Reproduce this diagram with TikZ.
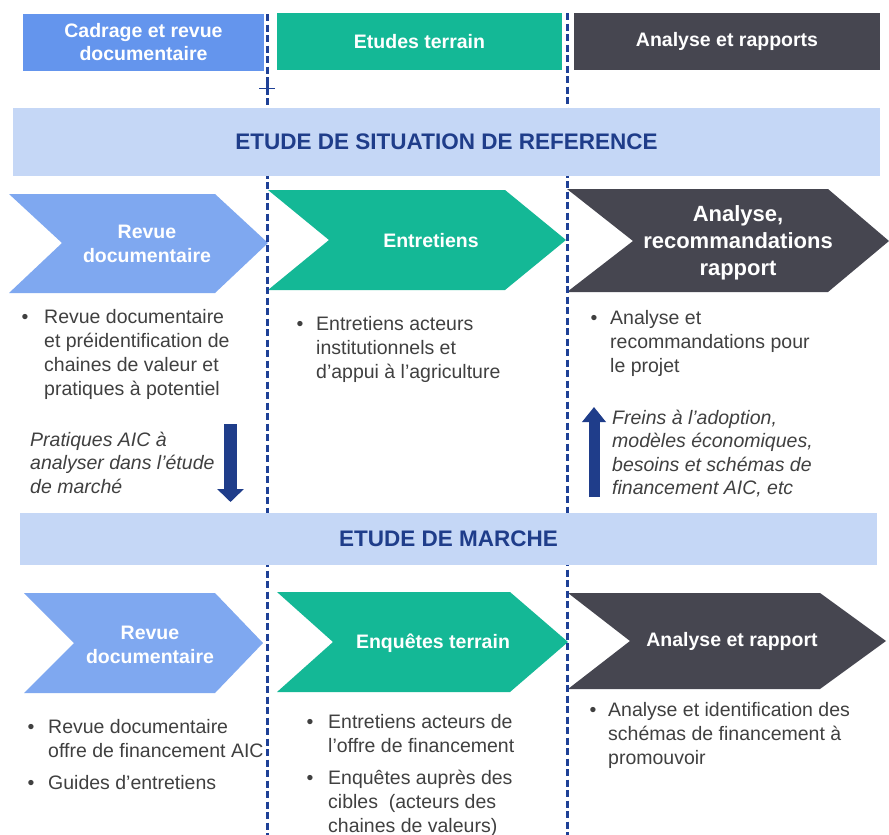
\documentclass[tikz,border=0pt]{standalone}
\usepackage{fontspec}
\setmainfont{Liberation Sans}
\usetikzlibrary{arrows.meta}
\definecolor{hblue}{RGB}{100,149,237}
\definecolor{cblue}{RGB}{127,168,240}
\definecolor{tgreen}{RGB}{20,184,150}
\definecolor{dgray}{RGB}{70,70,80}
\definecolor{bandc}{RGB}{197,215,246}
\definecolor{navy}{RGB}{31,61,138}
\definecolor{dashc}{RGB}{30,64,150}
\definecolor{txt}{RGB}{64,64,64}
\newcommand\mlines[1]{\begin{tabular}[t]{@{}l@{}}#1\end{tabular}}
\begin{document}
\begin{tikzpicture}[x=1pt,y=-1pt,
 hdr/.style={inner sep=0, text=white, font=\bfseries\fontsize{19.5}{23}\selectfont, align=center},
 ctext/.style={text=white, font=\bfseries\fontsize{19.5}{24}\selectfont, align=center, inner sep=0},
 bandbox/.style={fill=bandc, inner sep=0, text=navy, font=\bfseries\fontsize{22.5}{27}\selectfont},
 body/.style={anchor=base west, inner sep=0, text=txt, font=\fontsize{19.5}{24}\selectfont},
 ital/.style={anchor=base west, inner sep=0, text=txt, font=\itshape\fontsize{19.5}{23.5}\selectfont},
 bul/.style={anchor=base, inner sep=0, text=txt, font=\fontsize{19.5}{24}\selectfont},
 divider/.style={dashc, line width=2.8pt, dash pattern=on 7pt off 3.5pt},
 bigarr/.style={navy, line width=13pt, -{Triangle[width=26pt,length=13pt]}}
]
\useasboundingbox (0,0) rectangle (889,835);
\fill[white] (0,0) rectangle (889,835);

% header boxes
\node[hdr, fill=hblue, minimum width=241pt, minimum height=57pt] (h1) at (143.5,42.5) {Cadrage et revue\\documentaire};
\node[hdr, fill=tgreen, minimum width=285pt, minimum height=57pt] (h2) at (419.5,41.5) {Etudes terrain};
\node[hdr, fill=dgray, minimum width=306pt, minimum height=57pt] (h3) at (727,41.5) {Analyse et rapports};

% chevrons row 1
\fill[cblue] (9,194) -- (215,194) -- (268,243) -- (215,293) -- (9,293) -- (62,243) -- cycle;
\fill[tgreen] (268,190) -- (505,190) -- (566,240) -- (505,290) -- (268,290) -- (329,240) -- cycle;
\fill[dgray] (567,189) -- (828,189) -- (889,241) -- (828,292) -- (567,292) -- (633,241) -- cycle;

% chevrons row 2
\fill[cblue] (24,593) -- (215,593) -- (263,643) -- (215,693) -- (24,693) -- (74,643) -- cycle;
\fill[tgreen] (277,592) -- (510,592) -- (568,642) -- (510,692) -- (277,692) -- (333,642) -- cycle;
\fill[dgray] (568,593) -- (820,593) -- (886,641) -- (820,689) -- (568,689) -- (630,641) -- cycle;

% dividers
\coordinate (d1t) at (267.5,14);
\coordinate (d1b) at (267.5,835);
\coordinate (d2t) at (567.5,13);
\coordinate (d2b) at (567.5,835);
\draw[divider] (d1t) -- (d1b);
\draw[divider] (d2t) -- (d2b);
\coordinate (pl) at (259,88);
\coordinate (pr) at (275,88);
\coordinate (pu) at (267.5,82);
\coordinate (pd) at (267.5,95);
\draw[dashc, line width=1pt] (pl) -- (pr);
\draw[dashc, line width=2.8pt] (pu) -- (pd);

% bands
\node[bandbox, minimum width=867pt, minimum height=68pt] (band1) at (446.5,142) {ETUDE DE SITUATION DE REFERENCE};
\node[bandbox, minimum width=857pt, minimum height=52pt] (band2) at (448.5,539) {ETUDE DE MARCHE};

% chevron texts row 1
\node[ctext] (c11) at (147,244) {Revue\\documentaire};
\node[ctext] (c12) at (431,241) {Entretiens};
\node[ctext, font=\bfseries\fontsize{22}{27}\selectfont] (c13) at (738,243) {Analyse,\\recommandations\\rapport};

% chevron texts row 2
\node[ctext] (c21) at (150,645) {Revue\\documentaire};
\node[ctext] (c22) at (433,643) {Enquêtes terrain};
\node[ctext] (c23) at (732,641) {Analyse et rapport};

% bullets row 1
\node[bul] (b11) at (25,323) {•};
\node[body] (l11) at (44,323) {\mlines{Revue documentaire\\et préidentification de\\chaines de valeur et\\pratiques à potentiel}};
\node[bul] (b12) at (300,330) {•};
\node[body] (l12) at (316,330) {\mlines{Entretiens acteurs\\institutionnels et\\d’appui à l’agriculture}};
\node[bul] (b13) at (594,324) {•};
\node[body] (l13) at (610,324) {\mlines{Analyse et\\recommandations pour\\le projet}};

% italic notes
\node[ital] (n1) at (30,446) {\mlines{Pratiques AIC à\\analyser dans l’étude\\de marché}};
\node[ital] (n2) at (612,424) {\mlines{Freins à l’adoption,\\modèles économiques,\\besoins et schémas de\\financement AIC, etc}};

% big arrows
\coordinate (ad1) at (230.5,424);
\coordinate (ad2) at (230.5,502);
\draw[bigarr] (ad1) -- (ad2);
\coordinate (au1) at (594,497);
\coordinate (au2) at (594,407);
\draw[bigarr, line width=11pt, -{Triangle[width=23pt,length=15pt]}] (au1) -- (au2);

% bullets row 2
\node[bul] (b21) at (31,733) {•};
\node[body] (l21) at (48,733) {\mlines{Revue documentaire\\offre de financement AIC}};
\node[bul] (b22) at (31,789) {•};
\node[body] (l22) at (48,789) {Guides d’entretiens};
\node[bul] (b23) at (310,728) {•};
\node[body] (l23) at (328,728) {\mlines{Entretiens acteurs de\\l’offre de financement}};
\node[bul] (b24) at (310,784) {•};
\node[body] (l24) at (328,784) {\mlines{Enquêtes auprès des\\cibles~ (acteurs des\\chaines de valeurs)}};
\node[bul] (b25) at (593,716) {•};
\node[body] (l25) at (608,716) {\mlines{Analyse et identification des\\schémas de financement à\\promouvoir}};
\end{tikzpicture}
\end{document}
